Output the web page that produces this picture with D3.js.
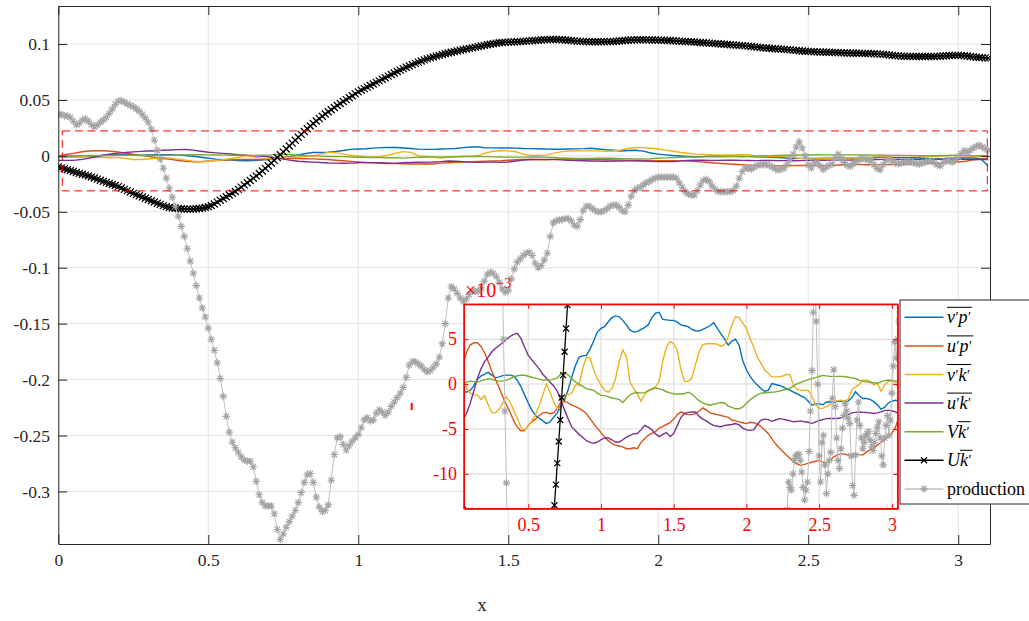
<!DOCTYPE html>
<html><head><meta charset="utf-8">
<script src="https://cdn.jsdelivr.net/npm/d3@7"></script>
<style>
body{margin:0;background:#fff}
text{font-family:"Liberation Serif","Times New Roman",serif}
</style>
</head><body>
<svg id="c" width="1029" height="621"></svg>
<script>
// ---------------- data ----------------
// main x-axis ticks
const xTicks = [0, 0.5, 1, 1.5, 2, 2.5, 3];
const xTickLabels = ["0", "0.5", "1", "1.5", "2", "2.5", "3"];
const yTicks = [-0.3, -0.25, -0.2, -0.15, -0.1, -0.05, 0, 0.05, 0.1];
const yTickLabels = ["-0.3", "-0.25", "-0.2", "-0.15", "-0.1", "-0.05", "0", "0.05", "0.1"];
// inset ticks (inset y labels are in units of 10^-3)
const insetXTicks = [0.5, 1, 1.5, 2, 2.5, 3];
const insetXTickLabels = ["0.5", "1", "1.5", "2", "2.5", "3"];
const insetYTicks = [-0.01, -0.005, 0, 0.005];
const insetYTickLabels = ["-10", "-5", "0", "5"];

// x positions: small terms sampled every 0.025, Uk' and production every 0.01
const xCoarse = d3.range(125).map(i => +(i * 0.025).toFixed(3));
const xFine = d3.range(311).map(i => +(i * 0.01).toFixed(2));

// small terms, values in units of 10^-3 (as read on the inset)
const E3 = 1e-3;
const vp = [-0.8,-0.8,-0.8,-0.9,-0.7,-0.2,0.5,0.9,1.1,1.3,
1.0,0.7,0.8,0.95,1.0,1.0,0.9,0.4,-0.3,-1.2,
-2.1,-2.9,-3.5,-3.8,-4.1,-4.4,-4.2,-3.7,-3.2,-2.4,
-1.7,-0.6,0.8,2.1,3.0,3.15,3.2,3.9,4.8,5.8,
6.2,6.4,6.95,7.4,7.6,7.5,7.1,6.6,6.0,5.8,
5.85,6.1,6.3,6.6,7.4,7.9,8.0,7.2,7.15,7.1,
7.1,6.9,6.6,6.5,6.4,6.1,5.95,5.9,6.1,6.3,
6.5,6.85,6.2,5.6,5.0,4.35,4.8,5.0,4.3,2.6,
1.6,0.9,0.3,-0.1,-0.5,-0.8,-0.7,0.05,-0.05,-0.15,
-0.3,-0.5,-0.7,-0.9,-1.1,-1.3,-1.5,-1.9,-2.35,-2.2,
-2.2,-2.3,-2.0,-2.0,-2.05,-1.95,-1.9,-2.0,-1.9,-1.5,
-0.85,-1.3,-1.6,-1.6,-1.7,-1.95,-2.3,-2.8,-2.6,-2.1,
-1.9,-1.8,-1.9,-2.5,-9.0];
const up = [0.0,1.2,2.2,3.5,4.35,4.6,4.6,4.2,3.5,2.5,
1.4,0.5,-0.4,-1.4,-2.3,-3.1,-4.1,-4.8,-5.2,-5.2,
-4.6,-4.2,-3.9,-3.5,-3.2,-3.15,-3.3,-3.2,-2.7,-2.0,
-1.9,-2.1,-2.35,-2.5,-2.7,-2.95,-3.3,-3.85,-4.4,-4.9,
-5.4,-5.9,-6.3,-6.6,-6.8,-6.9,-7.0,-7.2,-7.2,-7.1,
-7.2,-6.5,-6.1,-5.7,-5.5,-5.3,-4.9,-4.7,-4.5,-4.3,
-3.9,-3.4,-3.1,-3.3,-3.4,-3.4,-3.3,-3.0,-2.65,-2.9,
-3.2,-3.3,-3.4,-3.5,-3.6,-3.7,-4.0,-4.1,-4.2,-4.3,
-4.4,-4.25,-4.3,-4.45,-4.7,-5.1,-5.5,-6.1,-6.65,-7.1,
-7.5,-7.9,-8.3,-8.65,-8.9,-9.05,-8.95,-8.8,-8.7,-8.6,
-8.5,-8.7,-8.8,-8.5,-8.1,-7.9,-7.75,-7.8,-7.9,-7.85,
-7.75,-7.85,-7.9,-7.55,-7.35,-7.1,-6.8,-6.5,-6.2,-5.8,
-5.45,-4.8,-3.6,-2.8,-2.2];
const vk = [0.0,0.1,0.1,-0.4,-1.0,-1.2,-1.2,-1.7,-1.3,-2.3,
-3.2,-3.2,-2.8,-2.1,-1.45,-2.0,-2.9,-3.8,-4.8,-5.2,
-4.6,-4.1,-3.4,-2.4,-1.2,0.0,-0.9,-2.0,-2.7,-2.7,
-1.2,-1.2,-1.0,-0.1,-0.1,1.8,3.0,2.9,1.6,0.6,
-0.1,-0.7,-0.9,-0.5,0.6,2.5,3.8,3.1,0.2,-0.5,
-1.1,-1.9,-1.2,-0.7,-0.5,-0.3,0.3,2.6,4.1,4.75,
4.5,3.7,1.6,0.3,0.3,0.7,2.2,3.6,4.4,4.5,
4.5,4.5,4.45,4.2,4.4,5.3,6.6,7.5,7.4,6.8,
6.2,5.1,4.1,3.0,2.3,1.6,1.2,0.8,0.8,0.8,
0.9,1.1,1.0,-0.2,-0.6,-0.7,-0.7,-0.7,-1.3,-2.3,
-2.7,-2.7,-2.5,-2.3,-1.95,-1.85,-1.8,-1.9,-1.7,-0.6,
-0.3,-0.05,0.45,0.45,0.3,-0.1,0.1,-0.8,-0.1,0.3,
0.3,0.1,-0.4,-0.6,-0.8];
const uk = [-4.0,-4.0,-4.0,-3.3,-2.2,-0.8,0.6,1.7,2.5,3.0,
3.6,4.0,4.3,4.6,5.0,5.3,5.55,5.65,5.1,4.1,
3.2,2.7,2.2,1.7,1.1,0.65,0.2,-0.2,-0.8,-1.8,
-2.9,-3.9,-4.8,-5.2,-5.6,-5.95,-6.3,-6.5,-6.6,-6.45,
-6.2,-6.0,-6.0,-6.2,-6.45,-6.45,-6.2,-5.9,-5.7,-5.55,
-5.5,-5.1,-4.6,-4.8,-5.1,-5.55,-5.85,-5.6,-5.4,-5.85,
-5.5,-4.6,-3.7,-3.25,-3.15,-3.1,-3.1,-3.6,-3.9,-4.1,
-4.4,-4.6,-4.7,-4.75,-4.6,-4.55,-4.5,-4.4,-4.55,-4.9,
-5.1,-5.15,-5.1,-4.5,-4.0,-3.9,-3.95,-4.15,-4.0,-3.85,
-3.9,-4.0,-4.1,-4.2,-4.15,-4.1,-4.2,-4.25,-4.4,-4.2,
-4.05,-3.95,-3.85,-3.83,-3.83,-3.83,-3.75,-3.55,-3.4,-3.2,
-3.15,-3.1,-3.15,-3.17,-3.2,-3.28,-3.2,-3.1,-2.95,-2.9,
-3.0,-3.1,-3.3,-3.3,-3.3];
const Vk = [0.0,0.1,0.05,0.2,0.33,0.28,0.2,0.35,0.5,0.58,
0.55,0.38,0.33,0.33,0.45,0.6,0.8,0.93,0.98,0.98,
0.88,0.76,0.66,0.55,0.45,0.45,0.45,0.55,0.7,1.15,
1.3,1.0,0.6,0.25,0.0,-0.25,-0.5,-0.6,-0.7,-1.0,
-1.25,-1.28,-1.4,-1.55,-1.62,-1.7,-2.05,-1.6,-1.2,-1.0,
-0.93,-1.0,-0.95,-0.75,-0.58,-0.43,-0.5,-0.65,-0.85,-0.98,
-1.08,-1.1,-1.1,-1.05,-0.9,-1.1,-1.5,-1.85,-2.1,-2.25,
-2.35,-2.25,-2.15,-2.05,-2.1,-2.45,-2.6,-2.75,-2.75,-2.55,
-2.15,-1.75,-1.45,-1.2,-1.0,-0.96,-0.93,-0.9,-0.87,-0.78,
-0.68,-0.58,-0.45,-0.2,0.05,0.2,0.35,0.5,0.62,0.72,
0.85,0.97,0.92,0.86,0.86,0.86,0.86,0.84,0.77,0.7,
0.62,0.45,0.3,0.25,0.2,0.15,0.1,0.25,0.38,0.45,
0.42,0.35,0.2,0.1,0.0];

// U k' (every 0.01)
const Uk = [-0.0098,-0.0107,-0.0115,-0.0124,-0.0132,-0.0140,-0.0148,-0.0156,-0.0164,-0.0172,
-0.0180,-0.0189,-0.0198,-0.0208,-0.0218,-0.0228,-0.0237,-0.0247,-0.0256,-0.0265,
-0.0275,-0.0287,-0.0299,-0.0311,-0.0323,-0.0335,-0.0346,-0.0357,-0.0368,-0.0379,
-0.0390,-0.0401,-0.0412,-0.0423,-0.0434,-0.0445,-0.0454,-0.0461,-0.0466,-0.0468,
-0.0470,-0.0473,-0.0475,-0.0476,-0.0476,-0.0475,-0.0473,-0.0470,-0.0467,-0.0462,
-0.0455,-0.0444,-0.0430,-0.0413,-0.0397,-0.0381,-0.0366,-0.0350,-0.0334,-0.0318,
-0.0299,-0.0279,-0.0259,-0.0240,-0.0220,-0.0200,-0.0179,-0.0157,-0.0135,-0.0112,
-0.0088,-0.0064,-0.0040,-0.0015,0.0010,0.0036,0.0062,0.0088,0.0114,0.0140,
0.0166,0.0192,0.0218,0.0243,0.0267,0.0290,0.0312,0.0333,0.0354,0.0374,
0.0394,0.0413,0.0432,0.0450,0.0468,0.0486,0.0503,0.0520,0.0537,0.0554,
0.0572,0.0587,0.0601,0.0615,0.0629,0.0643,0.0657,0.0671,0.0685,0.0699,
0.0713,0.0727,0.0741,0.0754,0.0767,0.0780,0.0792,0.0804,0.0816,0.0827,
0.0838,0.0848,0.0858,0.0867,0.0876,0.0884,0.0892,0.0899,0.0906,0.0913,
0.0920,0.0926,0.0932,0.0938,0.0944,0.0950,0.0955,0.0961,0.0966,0.0972,
0.0977,0.0982,0.0988,0.0993,0.0998,0.1003,0.1007,0.1011,0.1014,0.1016,
0.1017,0.1018,0.1019,0.1020,0.1022,0.1024,0.1026,0.1028,0.1030,0.1032,
0.1034,0.1036,0.1038,0.1039,0.1040,0.1041,0.1041,0.1040,0.1038,0.1036,
0.1034,0.1031,0.1028,0.1026,0.1024,0.1022,0.1021,0.1020,0.1020,0.1020,
0.1020,0.1020,0.1021,0.1021,0.1022,0.1023,0.1025,0.1027,0.1029,0.1032,
0.1034,0.1036,0.1037,0.1038,0.1038,0.1038,0.1037,0.1037,0.1036,0.1036,
0.1035,0.1034,0.1033,0.1032,0.1031,0.1029,0.1028,0.1026,0.1024,0.1023,
0.1021,0.1020,0.1018,0.1016,0.1014,0.1012,0.1010,0.1008,0.1006,0.1004,
0.1002,0.1000,0.0998,0.0996,0.0994,0.0992,0.0990,0.0988,0.0986,0.0983,
0.0981,0.0978,0.0975,0.0972,0.0969,0.0966,0.0964,0.0962,0.0960,0.0958,
0.0956,0.0954,0.0952,0.0950,0.0948,0.0945,0.0943,0.0940,0.0938,0.0936,
0.0934,0.0932,0.0931,0.0930,0.0929,0.0928,0.0927,0.0926,0.0925,0.0924,
0.0923,0.0922,0.0921,0.0920,0.0919,0.0918,0.0917,0.0917,0.0916,0.0915,
0.0915,0.0914,0.0913,0.0912,0.0910,0.0908,0.0905,0.0902,0.0899,0.0896,
0.0894,0.0892,0.0891,0.0890,0.0890,0.0889,0.0889,0.0889,0.0889,0.0889,
0.0889,0.0889,0.0889,0.0890,0.0891,0.0893,0.0895,0.0897,0.0898,0.0899,
0.0899,0.0898,0.0896,0.0893,0.0889,0.0885,0.0882,0.0880,0.0878,0.0876,
0.0874];

// production (every 0.01)
const production = [0.037,0.037,0.036,0.0355,0.0345,0.031,0.0278,0.029,0.032,0.0332,
0.031,0.028,0.026,0.0275,0.030,0.032,0.0345,0.038,0.042,0.046,
0.049,0.0495,0.048,0.0465,0.045,0.044,0.042,0.040,0.037,0.034,
0.030,0.024,0.014,0.005,-0.003,-0.011,-0.020,-0.029,-0.037,-0.045,
-0.054,-0.063,-0.072,-0.083,-0.094,-0.105,-0.116,-0.127,-0.136,-0.144,
-0.154,-0.164,-0.174,-0.185,-0.199,-0.215,-0.233,-0.247,-0.256,-0.261,
-0.265,-0.269,-0.272,-0.273,-0.273,-0.278,-0.291,-0.303,-0.310,-0.313,
-0.313,-0.313,-0.320,-0.334,-0.343,-0.338,-0.332,-0.327,-0.322,-0.317,
-0.310,-0.301,-0.292,-0.285,-0.284,-0.292,-0.305,-0.314,-0.318,-0.317,
-0.312,-0.290,-0.267,-0.252,-0.251,-0.258,-0.263,-0.259,-0.255,-0.252,
-0.249,-0.243,-0.236,-0.234,-0.237,-0.236,-0.230,-0.227,-0.229,-0.232,
-0.229,-0.224,-0.220,-0.216,-0.212,-0.207,-0.198,-0.187,-0.184,-0.184,
-0.186,-0.188,-0.191,-0.193,-0.192,-0.189,-0.186,-0.180,-0.168,-0.150,
-0.127,-0.117,-0.119,-0.123,-0.127,-0.130,-0.128,-0.124,-0.121,-0.121,
-0.121,-0.118,-0.112,-0.106,-0.104,-0.105,-0.108,-0.113,-0.119,-0.122,
-0.120,-0.110,-0.101,-0.095,-0.092,-0.089,-0.087,-0.086,-0.089,-0.096,
-0.100,-0.098,-0.093,-0.087,-0.072,-0.060,-0.058,-0.057,-0.057,-0.056,
-0.056,-0.058,-0.062,-0.063,-0.057,-0.049,-0.045,-0.045,-0.047,-0.049,
-0.050,-0.050,-0.049,-0.047,-0.045,-0.044,-0.044,-0.046,-0.049,-0.050,
-0.044,-0.036,-0.031,-0.029,-0.028,-0.026,-0.024,-0.023,-0.021,-0.020,
-0.019,-0.019,-0.019,-0.019,-0.019,-0.019,-0.020,-0.024,-0.028,-0.032,
-0.034,-0.035,-0.035,-0.031,-0.026,-0.022,-0.021,-0.023,-0.027,-0.030,
-0.032,-0.032,-0.032,-0.032,-0.032,-0.031,-0.027,-0.020,-0.0140,-0.0109,
-0.0115,-0.0118,-0.0100,-0.0085,-0.0080,-0.0079,-0.0078,-0.0085,-0.0098,-0.0115,
-0.0129,-0.0118,-0.0109,-0.0075,-0.0030,0.0015,0.0080,0.0125,0.0070,0.0000,
-0.0080,-0.0109,-0.0065,-0.0057,-0.0090,-0.0122,-0.0100,-0.0085,-0.0076,-0.0016,
0.0016,-0.0025,-0.0060,-0.0085,-0.0094,-0.0072,-0.0049,-0.0035,-0.0022,-0.0030,
-0.0038,-0.0044,-0.0080,-0.0113,-0.0124,-0.0079,-0.0040,-0.0020,-0.0046,-0.0060,
-0.0072,-0.0065,-0.0058,-0.0055,-0.0053,-0.0062,-0.0070,-0.0074,-0.0065,-0.0055,
-0.0048,-0.0042,-0.0060,-0.0080,-0.0090,-0.0060,-0.0046,-0.0035,-0.0057,-0.0040,
-0.0010,0.0020,0.0047,0.0029,0.0050,0.0070,0.0085,0.0096,0.0080,0.0065,
0.0050];

// zoom window drawn as a dashed box on the main axes: [x0, x1, y0, y1]
const zoomBox = [0.0133, 3.097, -0.0313, 0.0223];

// ---------------- chart ----------------
const FONT = '"Liberation Serif","Times New Roman",serif';
const svg = d3.select("#c");
const AX = "#262626", GRID = "#e4e4e4", RED = "#ff0000";
const series = [
  {key:"vp", vals:vp, color:"#0072BD"},
  {key:"up", vals:up, color:"#D95319"},
  {key:"vk", vals:vk, color:"#EDB120"},
  {key:"uk", vals:uk, color:"#7E2F8E"},
  {key:"Vk", vals:Vk, color:"#77AC30"}
].map(s => ({...s, pts: s.vals.map((v,i)=>[xCoarse[i], v*E3])}));
const ukPts = Uk.map((v,i)=>[xFine[i], v]);
const prodPts = production.map((v,i)=>[xFine[i], v]);
const PROD = "#a4a4a4", PRODLINE = "#bfbfbf";

const xMarker = a => `M${-a},${-a}L${a},${a}M${-a},${a}L${a},${-a}`;
const starMarker = a => { const b = a*0.72; return `M0,${-a}V${a}M${-a},0H${a}M${-b},${-b}L${b},${b}M${-b},${b}L${b},${-b}`; };

const defs = svg.append("defs");

function drawPanel(g, xs, ys, id, opts) {
  const [x0,x1] = xs.range(), [y0,y1] = ys.range(); // y0 bottom, y1 top
  defs.append("clipPath").attr("id", id).append("rect")
    .attr("x", x0).attr("y", y1).attr("width", x1-x0).attr("height", y0-y1);
  if (opts.bg) g.append("rect").attr("x",x0).attr("y",y1).attr("width",x1-x0).attr("height",y0-y1).attr("fill","#fff");
  // grid
  const grid = g.append("g").attr("stroke", GRID).attr("stroke-width", opts.gridW);
  grid.selectAll(".gx").data(opts.xt).join("line").attr("class","gx")
    .attr("x1", d=>xs(d)).attr("x2", d=>xs(d)).attr("y1", y1).attr("y2", y0);
  grid.selectAll(".gy").data(opts.yt).join("line").attr("class","gy")
    .attr("y1", d=>ys(d)).attr("y2", d=>ys(d)).attr("x1", x0).attr("x2", x1);
  const plot = g.append("g").attr("clip-path", `url(#${id})`);
  const line = d3.line().x(d=>xs(d[0])).y(d=>ys(d[1]));
  series.forEach(s => plot.append("path").attr("d", line(s.pts)).attr("fill","none")
    .attr("stroke", s.color).attr("stroke-width", 1.4));
  plot.append("path").attr("d", line(ukPts)).attr("fill","none").attr("stroke","#000").attr("stroke-width",1.3);
  plot.append("g").selectAll("path").data(ukPts).join("path")
    .attr("transform", d=>`translate(${xs(d[0])},${ys(d[1])})`)
    .attr("d", xMarker(opts.mk)).attr("stroke","#000").attr("stroke-width",1.25).attr("fill","none");
  plot.append("path").attr("d", line(prodPts)).attr("fill","none").attr("stroke",PRODLINE).attr("stroke-width",1);
  plot.append("g").selectAll("path").data(prodPts).join("path")
    .attr("transform", d=>`translate(${xs(d[0])},${ys(d[1])})`)
    .attr("d", starMarker(3.8)).attr("stroke",PROD).attr("stroke-width",1.1).attr("fill","none");
  return plot;
}

// main axes
const M = {l:58.3, r:990, t:6, b:544};
const x = d3.scaleLinear().domain([0, 3.106]).range([M.l, M.r]);
const y = d3.scaleLinear().domain([-0.347, 0.134]).range([M.b, M.t]);
const gMain = svg.append("g");
drawPanel(gMain, x, y, "clipMain", {xt:xTicks, yt:yTicks, gridW:1, mk:3.5});

// dashed zoom box
svg.append("rect")
  .attr("x", x(zoomBox[0])).attr("y", y(zoomBox[3]))
  .attr("width", x(zoomBox[1]) - x(zoomBox[0])).attr("height", y(zoomBox[2]) - y(zoomBox[3]))
  .attr("fill","none").attr("stroke", RED).attr("stroke-width",1).attr("stroke-dasharray","8,4.6");

function styleAxis(sel, color, size) {
  sel.attr("font-size", size).attr("font-family", FONT);
  sel.selectAll("path.domain").attr("stroke", color);
  sel.selectAll(".tick line").attr("stroke", color);
  sel.selectAll("text").attr("fill", color).attr("font-family", FONT);
}
// main axes lines + ticks (inward), box on
const tk = 9;
styleAxis(svg.append("g").attr("transform",`translate(0,${M.b})`)
  .call(d3.axisBottom(x).tickValues(xTicks).tickFormat((d,i)=>xTickLabels[i]).tickSizeInner(-tk).tickSizeOuter(0).tickPadding(10)), AX, 17.5);
styleAxis(svg.append("g").attr("transform",`translate(0,${M.t})`)
  .call(d3.axisTop(x).tickValues(xTicks).tickFormat("").tickSizeInner(-tk).tickSizeOuter(0)), AX, 17.5);
styleAxis(svg.append("g").attr("transform",`translate(${M.l},0)`)
  .call(d3.axisLeft(y).tickValues(yTicks).tickFormat((d,i)=>yTickLabels[i]).tickSizeInner(-tk).tickSizeOuter(0).tickPadding(8.3)), AX, 17.5);
styleAxis(svg.append("g").attr("transform",`translate(${M.r},0)`)
  .call(d3.axisRight(y).tickValues(yTicks).tickFormat("").tickSizeInner(-tk).tickSizeOuter(0)), AX, 17.5);

svg.append("text").attr("x", 482).attr("y", 611).attr("text-anchor","middle")
  .attr("font-size", 19).attr("font-family", FONT).attr("fill", AX).text("x");

// small stray red mark
svg.append("line").attr("x1", 411.7).attr("x2", 411.7).attr("y1", 403).attr("y2", 410)
  .attr("stroke", RED).attr("stroke-width", 2);

// inset
const I = {l:464, r:897.7, t:304.3, b:508.7};
const ix = d3.scaleLinear().domain([0.0584, 3.04]).range([I.l, I.r]);
const iy = d3.scaleLinear().domain([-0.01388, 0.00889]).range([I.b, I.t]);
const gIn = svg.append("g");
drawPanel(gIn, ix, iy, "clipInset", {xt:insetXTicks, yt:insetYTicks, gridW:1.5, bg:true, mk:3.0});
const itk = 4.5;
styleAxis(svg.append("g").attr("transform",`translate(0,${I.b})`)
  .call(d3.axisBottom(ix).tickValues(insetXTicks).tickFormat((d,i)=>insetXTickLabels[i]).tickSizeInner(-itk).tickSizeOuter(0).tickPadding(9.5)), RED, 18);
styleAxis(svg.append("g").attr("transform",`translate(0,${I.t})`)
  .call(d3.axisTop(ix).tickValues(insetXTicks).tickFormat("").tickSizeInner(-itk).tickSizeOuter(0)), RED, 18);
styleAxis(svg.append("g").attr("transform",`translate(${I.l},0)`)
  .call(d3.axisLeft(iy).tickValues(insetYTicks).tickFormat((d,i)=>insetYTickLabels[i]).tickSizeInner(-itk).tickSizeOuter(0).tickPadding(7)), RED, 18);
styleAxis(svg.append("g").attr("transform",`translate(${I.r},0)`)
  .call(d3.axisRight(iy).tickValues(insetYTicks).tickFormat("").tickSizeInner(-itk).tickSizeOuter(0)), RED, 18);
svg.append("rect").attr("x",I.l).attr("y",I.t).attr("width",I.r-I.l).attr("height",I.b-I.t)
  .attr("fill","none").attr("stroke",RED).attr("stroke-width",1.5);
// exponent label
const ex = svg.append("text").attr("x", I.l+1).attr("y", 297).attr("fill", RED).attr("font-size", 20).attr("font-family", FONT);
ex.append("tspan").text("×10");
ex.append("tspan").attr("dy", -9).attr("font-size", 14).text("−3");

// legend
const legendItems = [
  {parts:[["v",1],["′",0],["p",1],["′",0]], over:0, color:"#0072BD"},
  {parts:[["u",1],["′",0],["p",1],["′",0]], over:0, color:"#D95319"},
  {parts:[["v",1],["′",0],["k",1],["′",0]], over:0, color:"#EDB120"},
  {parts:[["u",1],["′",0],["k",1],["′",0]], over:0, color:"#7E2F8E"},
  {parts:[["V",1],["k",1],["′",0]], over:1, color:"#77AC30"},
  {parts:[["U",1],["k",1],["′",0]], over:1, color:"#000", marker:"x"},
  {parts:[["production",0]], over:-1, color:PRODLINE, marker:"*"}
];
const L = {x:900, y:300, w:140, h:204, row:28.6, first:17.3};
const gL = svg.append("g");
gL.append("rect").attr("x", L.x).attr("y", L.y).attr("width", L.w).attr("height", L.h)
  .attr("fill","#fff").attr("stroke", AX).attr("stroke-width", 1);
legendItems.forEach((it, i) => {
  const cy = L.y + L.first + i*L.row;
  gL.append("line").attr("x1", L.x+4.5).attr("x2", L.x+43.5).attr("y1", cy).attr("y2", cy)
    .attr("stroke", it.color).attr("stroke-width", 1.5);
  if (it.marker === "x") gL.append("path").attr("transform",`translate(${L.x+24},${cy})`)
    .attr("d", xMarker(3.0)).attr("stroke","#000").attr("stroke-width",1.25);
  if (it.marker === "*") gL.append("path").attr("transform",`translate(${L.x+24},${cy})`)
    .attr("d", starMarker(3.8)).attr("stroke",PROD).attr("stroke-width",1.1);
  const t = gL.append("text").attr("x", L.x+47).attr("y", cy+6).attr("font-size", 18)
    .attr("font-family", FONT).attr("fill","#000");
  let prevPrime = false;
  it.parts.forEach(([s, ital]) => {
    const sp = t.append("tspan").text(s);
    if (ital) sp.attr("font-style","italic");
    if (s === "′") { sp.attr("font-size", 14).attr("dy", -1).attr("dx", 0.5); prevPrime = true; }
    else { if (prevPrime) sp.attr("dy", 1); prevPrime = false; }
  });
  if (it.over >= 0) {
    const node = t.node();
    let startChar = 0;
    for (let k = 0; k < it.over; k++) startChar += it.parts[k][0].length;
    const n = node.getNumberOfChars();
    const xs0 = node.getStartPositionOfChar(startChar).x;
    const xe = node.getEndPositionOfChar(n-1).x;
    gL.append("line").attr("x1", xs0).attr("x2", xe+1).attr("y1", cy-10).attr("y2", cy-10)
      .attr("stroke","#000").attr("stroke-width",1);
  }
});
</script>
</body></html>
